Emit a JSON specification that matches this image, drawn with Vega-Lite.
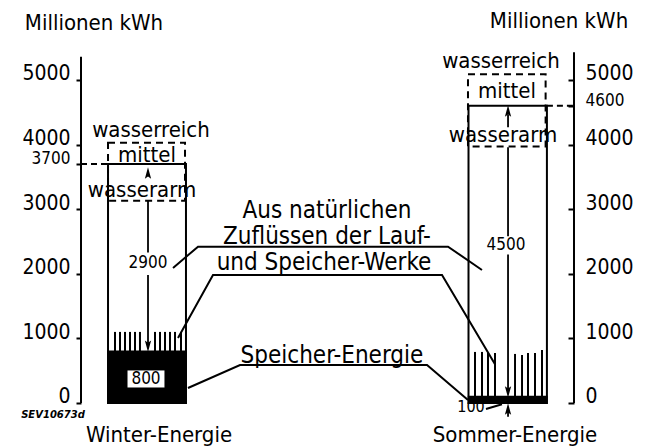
{
  "$schema": "https://vega.github.io/schema/vega-lite/v6.json",
  "width": 648,
  "height": 448,
  "padding": 0,
  "autosize": {"type": "none"},
  "background": "white",
  "config": {
    "view": {"stroke": null},
    "text": {"font": "DejaVu Sans Condensed", "color": "black"}
  },
  "resolve": {"axis": {"y": "independent"}},
  "datasets": {
    "bars": [
      {"name": "Winter-Energie", "x0": 16.67, "x1": 28.7, "total": 3700, "speicher": 800},
      {"name": "Sommer-Energie", "x0": 72.3, "x1": 84.4, "total": 4600, "speicher": 100}
    ],
    "ranges": [
      {"name": "Winter-Energie", "x0": 16.67, "x1": 28.55, "low": 3130, "high": 4030},
      {"name": "Sommer-Energie", "x0": 72.22, "x1": 84.2, "low": 3970, "high": 5090}
    ],
    "hatch": [
      {"x": 17.75, "lo": 800, "hi": 1100}, {"x": 18.52, "lo": 800, "hi": 1100},
      {"x": 19.29, "lo": 800, "hi": 1100}, {"x": 20.06, "lo": 800, "hi": 1100},
      {"x": 20.83, "lo": 800, "hi": 1100}, {"x": 21.6, "lo": 800, "hi": 1100},
      {"x": 23.92, "lo": 800, "hi": 1100}, {"x": 24.69, "lo": 800, "hi": 1100},
      {"x": 25.46, "lo": 800, "hi": 1100}, {"x": 26.23, "lo": 800, "hi": 1100},
      {"x": 27.01, "lo": 800, "hi": 1100}, {"x": 27.93, "lo": 800, "hi": 1100},
      {"x": 73.3, "lo": 100, "hi": 790}, {"x": 74.38, "lo": 100, "hi": 790},
      {"x": 75.31, "lo": 100, "hi": 774}, {"x": 76.39, "lo": 100, "hi": 774},
      {"x": 79.48, "lo": 100, "hi": 759}, {"x": 80.56, "lo": 100, "hi": 743},
      {"x": 81.48, "lo": 100, "hi": 774}, {"x": 82.56, "lo": 100, "hi": 774},
      {"x": 83.64, "lo": 100, "hi": 820}
    ],
    "shafts": [
      {"x": 22.84, "lo": 2330, "hi": 3130},
      {"x": 22.84, "lo": 900, "hi": 1980},
      {"x": 78.4, "lo": 4270, "hi": 4460},
      {"x": 78.4, "lo": 2580, "hi": 3960},
      {"x": 78.4, "lo": 200, "hi": 2300},
      {"x": 78.4, "lo": -215, "hi": -100}
    ],
    "heads": [
      {"x": 22.84, "v": 3560, "dir": "up"},
      {"x": 22.84, "v": 878, "dir": "down"},
      {"x": 78.4, "v": 4520, "dir": "up"},
      {"x": 78.4, "v": 170, "dir": "down"},
      {"x": 78.4, "v": -93, "dir": "up"}
    ],
    "levels": [
      {"x0": 12.5, "x1": 16.67, "v": 3700},
      {"x0": 84.4, "x1": 88.58, "v": 4600}
    ],
    "leaders": [
      {"id": 1, "o": 1, "x": 26.7, "v": 2090}, {"id": 1, "o": 2, "x": 30.56, "v": 2420},
      {"id": 1, "o": 3, "x": 69.14, "v": 2420}, {"id": 1, "o": 4, "x": 74.38, "v": 2059},
      {"id": 2, "o": 1, "x": 27.47, "v": 1006}, {"id": 2, "o": 2, "x": 32.87, "v": 1981},
      {"id": 2, "o": 3, "x": 68.21, "v": 1981}, {"id": 2, "o": 4, "x": 76.39, "v": 600},
      {"id": 3, "o": 1, "x": 29.01, "v": 232}, {"id": 3, "o": 2, "x": 37.04, "v": 588},
      {"id": 3, "o": 3, "x": 65.9, "v": 588}, {"id": 3, "o": 4, "x": 72.22, "v": 46},
      {"id": 4, "o": 1, "x": 75.0, "v": -93}, {"id": 4, "o": 2, "x": 77.47, "v": -20}
    ],
    "tag": [
      {"x0": 19.6, "x1": 25.46, "lo": 232, "hi": 511}
    ],
    "numbers": [
      {"t": "2900", "x": 22.84, "v": 2167},
      {"t": "4500", "x": 78.09, "v": 2446},
      {"t": "800", "x": 22.53, "v": 372}
    ],
    "small": [
      {"t": "100", "x": 72.69, "v": -62}
    ],
    "waterlevels": [
      {"t": "wasserreich", "x": 23.3, "v": 4118},
      {"t": "mittel", "x": 22.69, "v": 3735},
      {"t": "wasserarm", "x": 21.91, "v": 3195},
      {"t": "wasserreich", "x": 77.31, "v": 5186},
      {"t": "mittel", "x": 78.24, "v": 4720},
      {"t": "wasserarm", "x": 77.62, "v": 4040}
    ],
    "notes": [
      {"t": "Aus natürlichen", "x": 50.46, "v": 2864},
      {"t": "Zuflüssen der Lauf-", "x": 50.46, "v": 2461},
      {"t": "und Speicher-Werke", "x": 50.0, "v": 2059},
      {"t": "Speicher-Energie", "x": 51.23, "v": 625}
    ],
    "units": [
      {"t": "Millionen kWh", "x": 14.5, "v": 5774},
      {"t": "Millionen kWh", "x": 86.27, "v": 5805}
    ],
    "names": [
      {"t": "Winter-Energie", "x": 24.54, "v": -600},
      {"t": "Sommer-Energie", "x": 79.48, "v": -600}
    ],
    "code": [
      {"t": "SEV10673d", "x": 8.18, "v": -232}
    ],
    "axislines": [
      {"side": "left", "x": 12.5, "top": 5360},
      {"side": "right", "x": 88.58, "top": 5430}
    ]
  },
  "layer": [
    {
      "data": {"name": "ranges"},
      "mark": {"type": "rect", "fillOpacity": 0, "stroke": "black", "strokeWidth": 2, "strokeDash": [7, 5]},
      "encoding": {
        "x": {"field": "x0", "type": "quantitative", "scale": {"domain": [0, 100], "nice": false, "zero": false}, "axis": null},
        "x2": {"field": "x1"},
        "y": {"field": "low", "type": "quantitative", "scale": {"domain": [-697, 6238], "nice": false, "zero": false}, "axis": null},
        "y2": {"field": "high"}
      }
    },
    {
      "data": {"name": "bars"},
      "mark": {"type": "rect", "fillOpacity": 0, "stroke": "black", "strokeWidth": 2},
      "encoding": {
        "x": {"field": "x0", "type": "quantitative", "scale": {"domain": [0, 100], "nice": false, "zero": false}, "axis": null},
        "x2": {"field": "x1"},
        "y": {"field": "total", "type": "quantitative", "scale": {"domain": [-697, 6238], "nice": false, "zero": false}, "axis": null},
        "y2": {"datum": 0}
      }
    },
    {
      "data": {"name": "bars"},
      "mark": {"type": "rect", "fill": "black", "stroke": "black", "strokeWidth": 1.5},
      "encoding": {
        "x": {"field": "x0", "type": "quantitative", "scale": {"domain": [0, 100], "nice": false, "zero": false}, "axis": null},
        "x2": {"field": "x1"},
        "y": {"field": "speicher", "type": "quantitative", "scale": {"domain": [-697, 6238], "nice": false, "zero": false}, "axis": null},
        "y2": {"datum": 0}
      }
    },
    {
      "data": {"name": "hatch"},
      "mark": {"type": "rule", "color": "black", "strokeWidth": 2},
      "encoding": {
        "x": {"field": "x", "type": "quantitative", "scale": {"domain": [0, 100], "nice": false, "zero": false}, "axis": null},
        "y": {"field": "lo", "type": "quantitative", "scale": {"domain": [-697, 6238], "nice": false, "zero": false}, "axis": null},
        "y2": {"field": "hi"}
      }
    },
    {
      "data": {"name": "shafts"},
      "mark": {"type": "rule", "color": "black", "strokeWidth": 1.8},
      "encoding": {
        "x": {"field": "x", "type": "quantitative", "scale": {"domain": [0, 100], "nice": false, "zero": false}, "axis": null},
        "y": {"field": "lo", "type": "quantitative", "scale": {"domain": [-697, 6238], "nice": false, "zero": false}, "axis": null},
        "y2": {"field": "hi"}
      }
    },
    {
      "data": {"name": "heads"},
      "mark": {"type": "point", "filled": true, "color": "black", "opacity": 1, "size": 130, "strokeWidth": 0},
      "encoding": {
        "x": {"field": "x", "type": "quantitative", "scale": {"domain": [0, 100], "nice": false, "zero": false}, "axis": null},
        "y": {"field": "v", "type": "quantitative", "scale": {"domain": [-697, 6238], "nice": false, "zero": false}, "axis": null},
        "shape": {"field": "dir", "type": "nominal", "scale": {"domain": ["up", "down"], "range": ["M0,-1L0.55,1L0,0.6L-0.55,1Z", "M0,1L0.55,-1L0,-0.6L-0.55,-1Z"]}, "legend": null}
      }
    },
    {
      "data": {"name": "levels"},
      "mark": {"type": "rule", "color": "black", "strokeWidth": 2, "strokeDash": [6, 4]},
      "encoding": {
        "x": {"field": "x0", "type": "quantitative", "scale": {"domain": [0, 100], "nice": false, "zero": false}, "axis": null},
        "x2": {"field": "x1"},
        "y": {"field": "v", "type": "quantitative", "scale": {"domain": [-697, 6238], "nice": false, "zero": false}, "axis": null}
      }
    },
    {
      "data": {"name": "leaders"},
      "mark": {"type": "line", "color": "black", "strokeWidth": 2},
      "encoding": {
        "x": {"field": "x", "type": "quantitative", "scale": {"domain": [0, 100], "nice": false, "zero": false}, "axis": null},
        "y": {"field": "v", "type": "quantitative", "scale": {"domain": [-697, 6238], "nice": false, "zero": false}, "axis": null},
        "detail": {"field": "id", "type": "nominal"},
        "order": {"field": "o", "type": "quantitative"}
      }
    },
    {
      "data": {"name": "tag"},
      "mark": {"type": "rect", "fill": "white", "stroke": "black", "strokeWidth": 1},
      "encoding": {
        "x": {"field": "x0", "type": "quantitative", "scale": {"domain": [0, 100], "nice": false, "zero": false}, "axis": null},
        "x2": {"field": "x1"},
        "y": {"field": "lo", "type": "quantitative", "scale": {"domain": [-697, 6238], "nice": false, "zero": false}, "axis": null},
        "y2": {"field": "hi"}
      }
    },
    {
      "data": {"name": "numbers"},
      "mark": {"type": "text", "fontSize": 17, "align": "center", "baseline": "middle"},
      "encoding": {
        "x": {"field": "x", "type": "quantitative", "scale": {"domain": [0, 100], "nice": false, "zero": false}, "axis": null},
        "y": {"field": "v", "type": "quantitative", "scale": {"domain": [-697, 6238], "nice": false, "zero": false}, "axis": null},
        "text": {"field": "t"}
      }
    },
    {
      "data": {"name": "small"},
      "mark": {"type": "text", "fontSize": 16, "align": "center", "baseline": "middle"},
      "encoding": {
        "x": {"field": "x", "type": "quantitative", "scale": {"domain": [0, 100], "nice": false, "zero": false}, "axis": null},
        "y": {"field": "v", "type": "quantitative", "scale": {"domain": [-697, 6238], "nice": false, "zero": false}, "axis": null},
        "text": {"field": "t"}
      }
    },
    {
      "data": {"name": "waterlevels"},
      "mark": {"type": "text", "fontSize": 22, "align": "center", "baseline": "alphabetic"},
      "encoding": {
        "x": {"field": "x", "type": "quantitative", "scale": {"domain": [0, 100], "nice": false, "zero": false}, "axis": null},
        "y": {"field": "v", "type": "quantitative", "scale": {"domain": [-697, 6238], "nice": false, "zero": false}, "axis": null},
        "text": {"field": "t"}
      }
    },
    {
      "data": {"name": "notes"},
      "mark": {"type": "text", "fontSize": 24, "align": "center", "baseline": "alphabetic"},
      "encoding": {
        "x": {"field": "x", "type": "quantitative", "scale": {"domain": [0, 100], "nice": false, "zero": false}, "axis": null},
        "y": {"field": "v", "type": "quantitative", "scale": {"domain": [-697, 6238], "nice": false, "zero": false}, "axis": null},
        "text": {"field": "t"}
      }
    },
    {
      "data": {"name": "units"},
      "mark": {"type": "text", "fontSize": 22, "align": "center", "baseline": "alphabetic"},
      "encoding": {
        "x": {"field": "x", "type": "quantitative", "scale": {"domain": [0, 100], "nice": false, "zero": false}, "axis": null},
        "y": {"field": "v", "type": "quantitative", "scale": {"domain": [-697, 6238], "nice": false, "zero": false}, "axis": null},
        "text": {"field": "t"}
      }
    },
    {
      "data": {"name": "names"},
      "mark": {"type": "text", "fontSize": 22, "align": "center", "baseline": "alphabetic"},
      "encoding": {
        "x": {"field": "x", "type": "quantitative", "scale": {"domain": [0, 100], "nice": false, "zero": false}, "axis": null},
        "y": {"field": "v", "type": "quantitative", "scale": {"domain": [-697, 6238], "nice": false, "zero": false}, "axis": null},
        "text": {"field": "t"}
      }
    },
    {
      "data": {"name": "code"},
      "mark": {"type": "text", "fontSize": 10, "fontStyle": "italic", "fontWeight": "bold", "align": "center", "baseline": "alphabetic", "font": "DejaVu Sans"},
      "encoding": {
        "x": {"field": "x", "type": "quantitative", "scale": {"domain": [0, 100], "nice": false, "zero": false}, "axis": null},
        "y": {"field": "v", "type": "quantitative", "scale": {"domain": [-697, 6238], "nice": false, "zero": false}, "axis": null},
        "text": {"field": "t"}
      }
    },
    {
      "data": {"name": "axislines"},
      "transform": [{"filter": "datum.side == 'left'"}],
      "mark": {"type": "rule", "color": "black", "strokeWidth": 2},
      "encoding": {
        "x": {"field": "x", "type": "quantitative", "scale": {"domain": [0, 100], "nice": false, "zero": false}, "axis": null},
        "y": {"field": "top", "type": "quantitative", "scale": {"domain": [-697, 6238], "nice": false, "zero": false},
          "axis": {"orient": "left", "offset": -81, "domain": false, "grid": false, "values": [0, 1000, 2000, 3000, 3700, 4000, 5000], "format": "d",
            "tickSize": 5, "tickWidth": 2, "tickColor": "black", "labelColor": "black", "labelFont": "DejaVu Sans Condensed",
            "labelFontSize": {"condition": {"test": "datum.value == 3700", "value": 17}, "value": 21},
            "labelBaseline": "alphabetic", "labelPadding": 6, "labelFlush": false, "labelOverlap": false, "labelBound": false, "title": null}},
        "y2": {"datum": 0}
      }
    },
    {
      "data": {"name": "axislines"},
      "transform": [{"filter": "datum.side == 'right'"}],
      "mark": {"type": "rule", "color": "black", "strokeWidth": 2},
      "encoding": {
        "x": {"field": "x", "type": "quantitative", "scale": {"domain": [0, 100], "nice": false, "zero": false}, "axis": null},
        "y": {"field": "top", "type": "quantitative", "scale": {"domain": [-697, 6238], "nice": false, "zero": false},
          "axis": {"orient": "right", "offset": -74, "domain": false, "grid": false, "values": [0, 1000, 2000, 3000, 4000, 4600, 5000], "format": "d",
            "tickSize": -6, "tickWidth": 2, "tickColor": "black", "labelColor": "black", "labelFont": "DejaVu Sans Condensed",
            "labelFontSize": {"condition": {"test": "datum.value == 4600", "value": 17}, "value": 21},
            "labelBaseline": "alphabetic", "labelAlign": "left", "labelPadding": 17, "labelFlush": false, "labelOverlap": false, "labelBound": false, "title": null}},
        "y2": {"datum": 0}
      }
    }
  ]
}
